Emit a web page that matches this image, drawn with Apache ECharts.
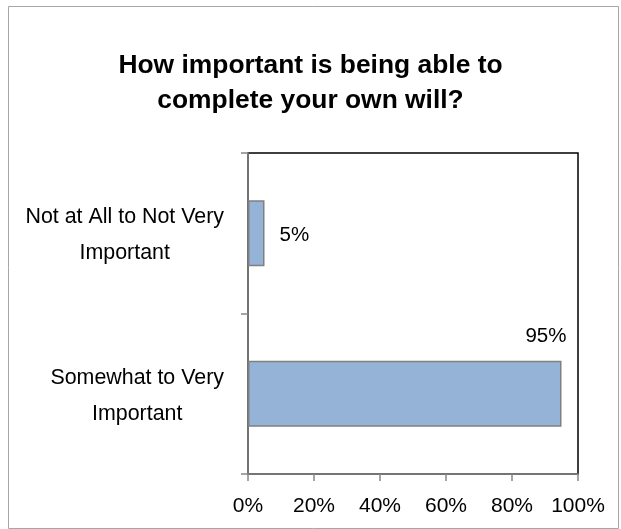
<!DOCTYPE html>
<html>
<head>
<meta charset="utf-8">
<script src="https://cdn.jsdelivr.net/npm/echarts@6/dist/echarts.min.js"></script>
<style>
  html, body { margin: 0; padding: 0; background: #fff; }
  #chart { width: 621px; height: 529px; }
</style>
</head>
<body>
<div id="chart"></div>
<script>
// Survey answers, top to bottom
const categories = ['Not at All to Not Very\nImportant', 'Somewhat to Very\nImportant'];
const shares = [5, 95];
// Horizontal value axis (percent)
const axisMin = 0;
const axisMax = 100;
const axisStep = 20;

const titleText = 'How important is being able to\ncomplete your own will?';
const AXIS_GREY = '#868686';

// Prefer the condensed face; fall back to the regular one with smaller sizes
function fontInstalled(name) {
  const ctx = document.createElement('canvas').getContext('2d');
  const sample = 'Not at All to Not Very 0123456789%';
  ctx.font = '40px monospace';
  const base = ctx.measureText(sample).width;
  ctx.font = '40px "' + name + '", monospace';
  return ctx.measureText(sample).width !== base;
}
const narrow = fontInstalled('Liberation Sans Narrow');
const FONT = narrow ? '"Liberation Sans Narrow", "Arial Narrow", sans-serif'
                    : '"Liberation Sans", Arial, sans-serif';
const SIZE = narrow
  ? { title: 31.5, category: 26, tick: 25.5, value: 25, titleTop: 46, tickMargin: 19 }
  : { title: 26.4, category: 21.4, tick: 21, value: 20.5, titleTop: 43, tickMargin: 22 };

// value labels: the short bar gets its label to the right, the long bar above its end
const labelPlacement = [
  { position: 'right', distance: 15, offset: [0, 2] },
  { position: ['100%', 0], align: 'right', verticalAlign: 'bottom', offset: [5, -14] }
];

const chart = echarts.init(document.getElementById('chart'), null, { renderer: 'canvas' });

chart.setOption({
  backgroundColor: '#ffffff',
  animation: false,
  title: {
    text: titleText,
    left: 'center',
    top: SIZE.titleTop,
    textStyle: {
      fontFamily: FONT,
      fontSize: SIZE.title,
      fontWeight: 'bold',
      color: '#000',
      lineHeight: 35
    }
  },
  graphic: [{
    type: 'rect',
    shape: { x: 8.5, y: 6.5, width: 610, height: 522 },
    style: { fill: null, stroke: '#a6a6a6', lineWidth: 1 },
    silent: true
  }],
  grid: {
    left: 248,
    right: 43,
    top: 153,
    bottom: 55,
    show: true,
    borderColor: '#000',
    borderWidth: 1.5,
    backgroundColor: 'transparent'
  },
  xAxis: {
    type: 'value',
    min: axisMin,
    max: axisMax,
    interval: axisStep,
    splitLine: { show: false },
    axisLine: { show: true, lineStyle: { color: AXIS_GREY, width: 1.5 } },
    axisTick: { show: true, length: 7, lineStyle: { color: AXIS_GREY, width: 1.5 } },
    axisLabel: {
      formatter: '{value}%',
      fontFamily: FONT,
      fontSize: SIZE.tick,
      color: '#000',
      margin: SIZE.tickMargin
    }
  },
  yAxis: {
    type: 'category',
    inverse: true,
    data: categories,
    axisLine: { show: true, lineStyle: { color: AXIS_GREY, width: 1.5 } },
    axisTick: { show: true, length: 7, alignWithLabel: false, lineStyle: { color: AXIS_GREY, width: 1.5 } },
    axisLabel: {
      margin: 24,
      align: 'right',
      padding: [4, 0, 0, 0],
      formatter: function (value) {
        return value.split('\n').map(function (line) { return '{c|' + line + '}'; }).join('\n');
      },
      rich: {
        c: {
          align: 'center',
          fontFamily: FONT,
          fontSize: SIZE.category,
          lineHeight: 36,
          color: '#000'
        }
      }
    }
  },
  series: [{
    type: 'bar',
    barCategoryGap: '59%',
    data: shares.map(function (v, i) {
      return { value: v, label: labelPlacement[i] };
    }),
    itemStyle: {
      color: '#95b3d7',
      borderColor: '#808080',
      borderWidth: 1.5
    },
    label: {
      show: true,
      formatter: '{c}%',
      fontFamily: FONT,
      fontSize: SIZE.value,
      color: '#000'
    }
  }]
});
</script>
</body>
</html>
